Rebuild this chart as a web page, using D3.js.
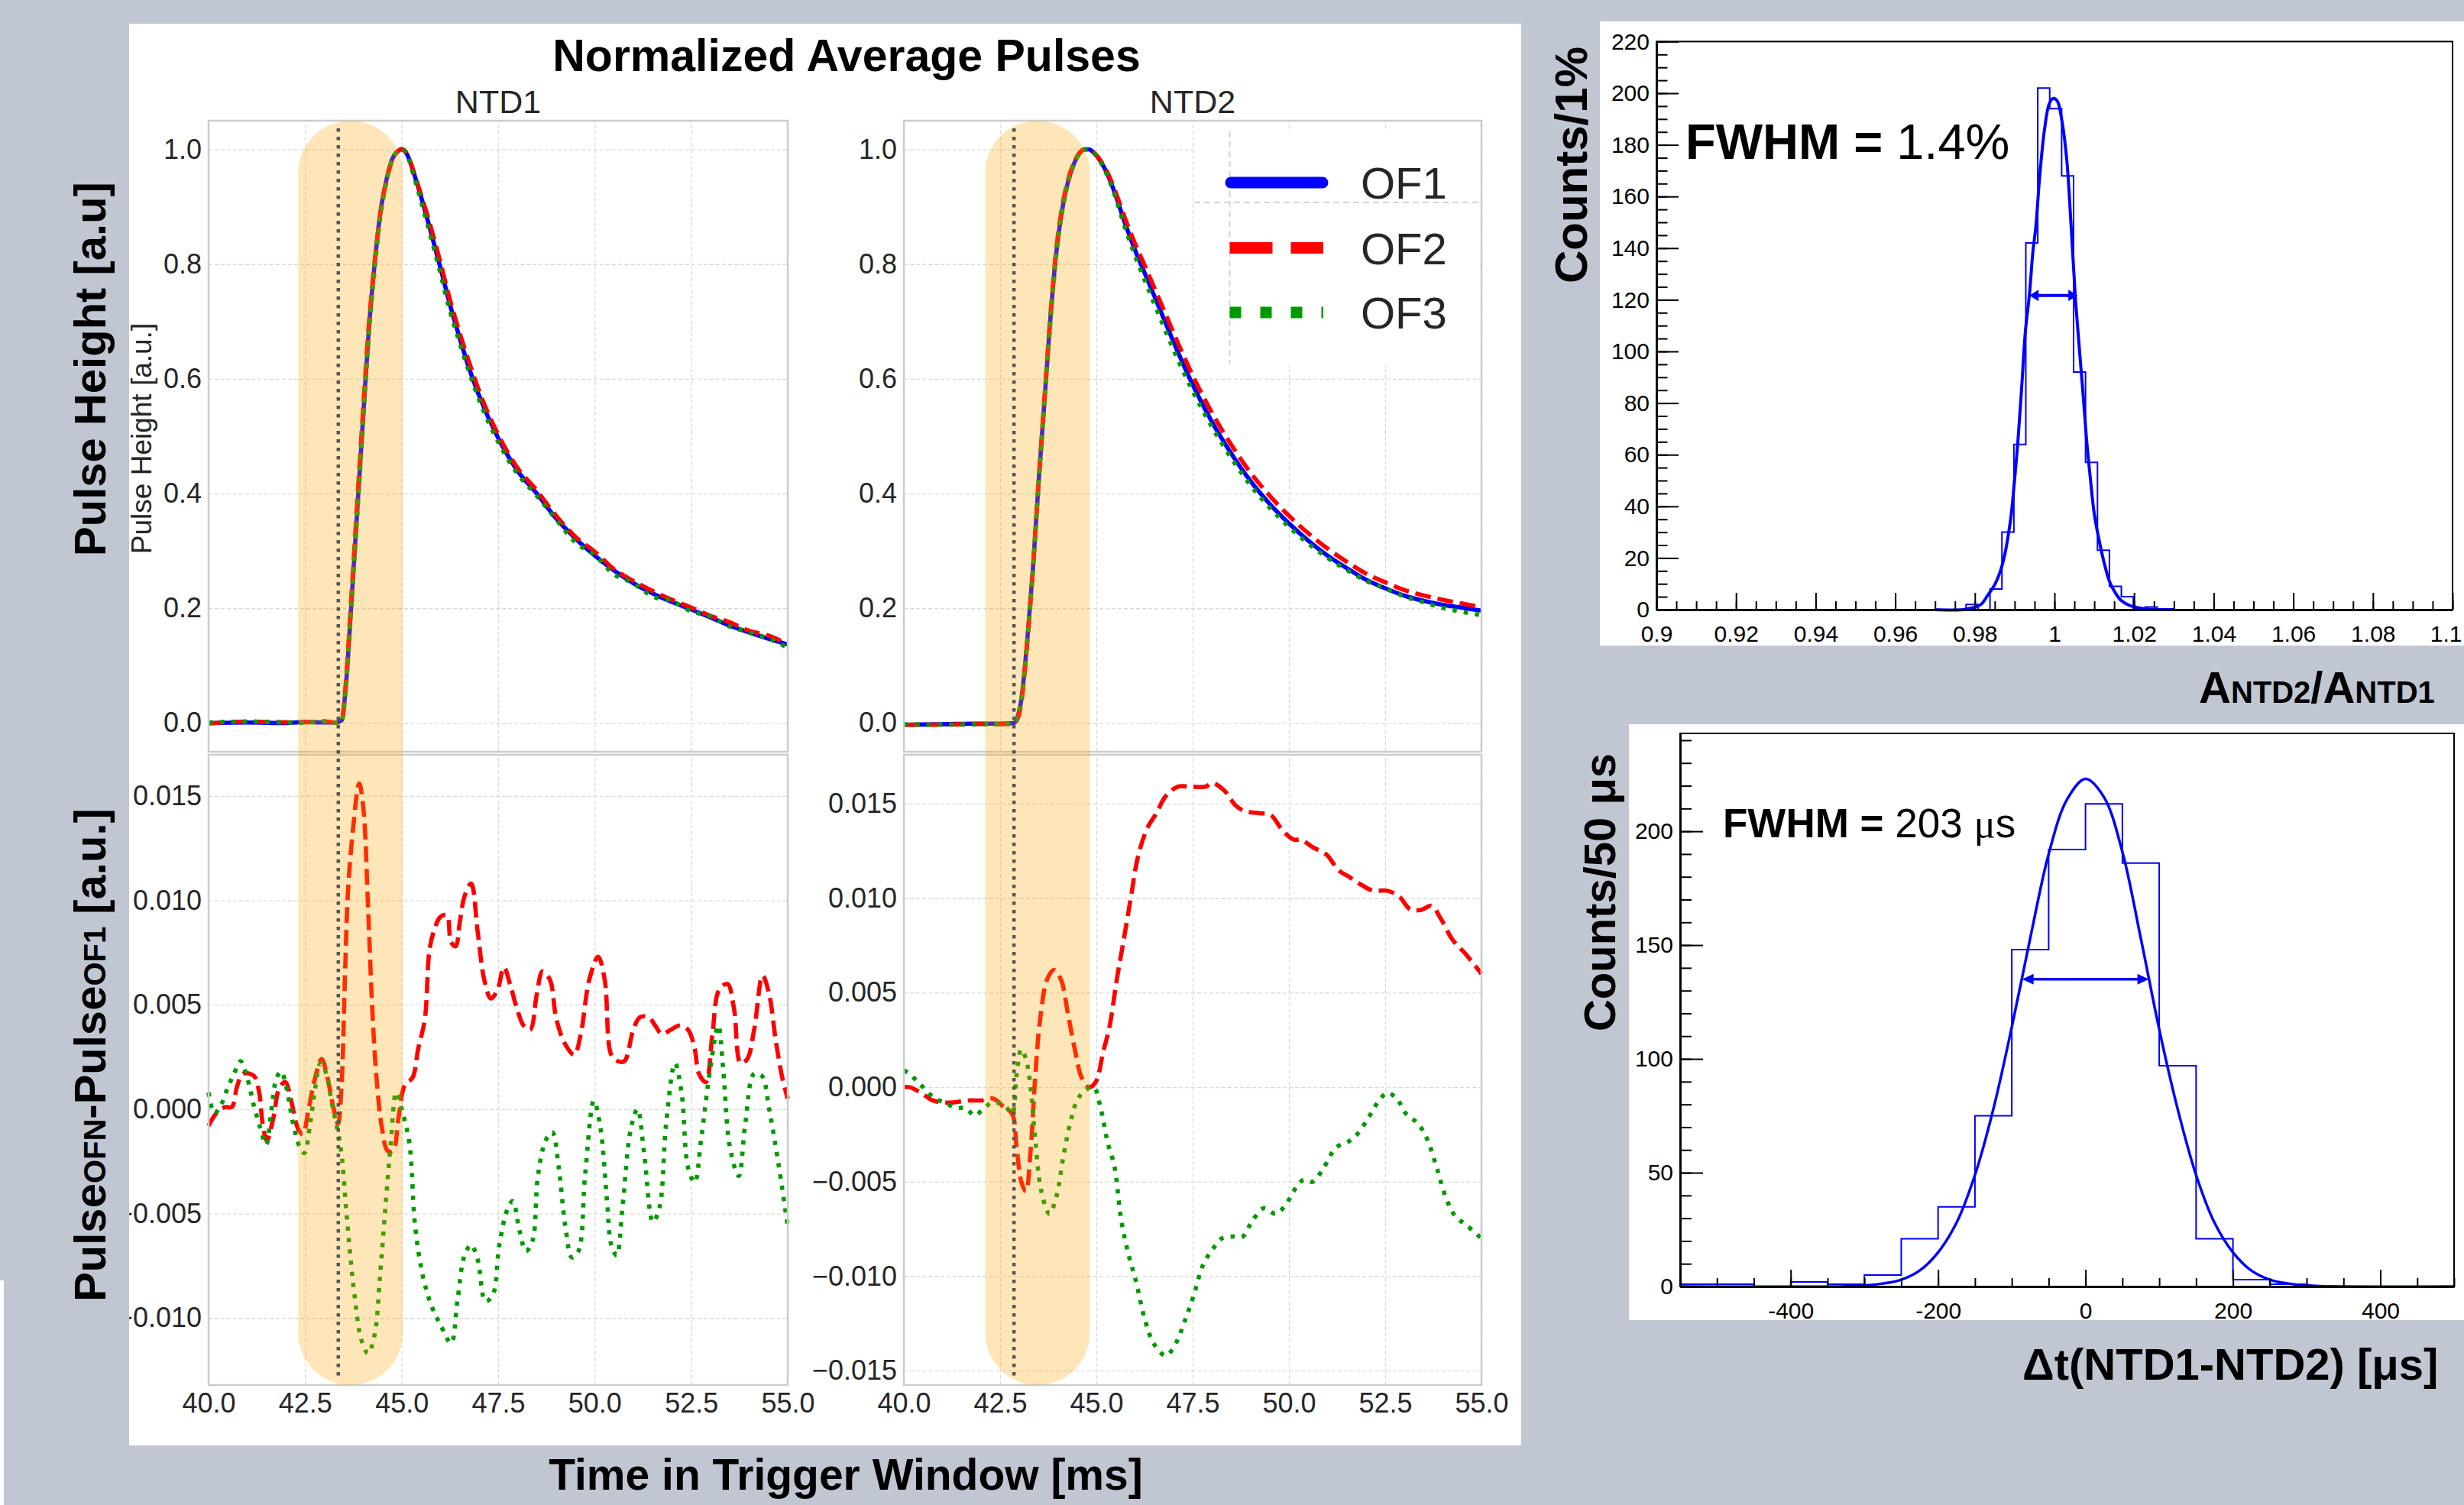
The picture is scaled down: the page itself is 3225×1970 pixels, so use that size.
<!DOCTYPE html>
<html><head><meta charset="utf-8">
<script src="https://cdn.jsdelivr.net/npm/d3@7"></script>
<style>
body{margin:0;background:#c0c6d2;}
svg{display:block;}
text{font-family:"Liberation Sans",Arial,Helvetica,sans-serif;}
</style></head>
<body><svg id="c" width="3225" height="1970"></svg>
<script>
// ---------------- DATA ----------------
const detectors = ["NTD1", "NTD2"];
const seriesNames = ["OF1", "OF2", "OF3"];
const timeTicks = [40.0, 42.5, 45.0, 47.5, 50.0, 52.5, 55.0];
const pulseTicks = [0.0, 0.2, 0.4, 0.6, 0.8, 1.0];
const ntd1DiffTicks = [-0.010, -0.005, 0.000, 0.005, 0.010, 0.015];
const ntd2DiffTicks = [-0.015, -0.010, -0.005, 0.000, 0.005, 0.010, 0.015];

const ntd1Time = [40,41,42,42.5,43,43.3,43.45,43.55,43.7,43.85,44.0,44.15,44.3,44.45,44.6,44.75,44.9,45.0,45.15,45.3,45.5,45.75,46.0,46.25,46.5,46.75,47.0,47.5,48.0,48.5,49.0,49.5,50.0,50.5,51.0,51.5,52.0,52.5,53.0,53.5,54.0,54.5,55.0];
const ntd1OF1 = [0.000,0.001,0.000,0.002,0.001,0.001,0.005,0.060,0.210,0.370,0.530,0.685,0.800,0.890,0.945,0.982,0.997,1.000,0.990,0.962,0.918,0.858,0.795,0.730,0.672,0.618,0.572,0.497,0.440,0.400,0.357,0.322,0.292,0.266,0.244,0.226,0.211,0.198,0.184,0.170,0.158,0.147,0.137];
const ntd1OF2 = [-0.0008,0.0026,0.0012,0.0014,0.003,0.0006,0.006,0.067,0.2228,0.3852,0.5445,0.694,0.803,0.8895,0.9432,0.980,0.9964,1.0008,0.9913,0.9636,0.9215,0.866,0.8042,0.7383,0.6808,0.6286,0.580,0.5028,0.4448,0.4055,0.3614,0.3248,0.2988,0.2683,0.2478,0.2302,0.2148,0.2014,0.187,0.1755,0.1608,0.1526,0.1375];
const ntd1OF3 = [0.0008,0.0025,0.0011,0.0002,0.0029,0.0003,0.0028,0.0555,0.2025,0.3603,0.5187,0.6733,0.7892,0.8822,0.9408,0.981,0.9976,1.0002,0.989,0.9575,0.9105,0.8487,0.7847,0.7189,0.6635,0.6114,0.5645,0.490,0.4347,0.3962,0.355,0.315,0.2923,0.2592,0.2436,0.2206,0.2128,0.1948,0.186,0.1682,0.1585,0.1472,0.1314];

const ntd2Time = [40,41,42,42.5,42.85,42.95,43.05,43.2,43.35,43.5,43.65,43.8,43.95,44.1,44.25,44.4,44.55,44.7,44.8,44.95,45.1,45.3,45.5,45.75,46.0,46.25,46.5,46.75,47.0,47.5,48.0,48.5,49.0,49.5,50.0,50.5,51.0,51.5,52.0,52.5,53.0,53.5,54.0,54.5,55.0];
const ntd2OF1 = [-0.003,-0.002,-0.001,-0.001,0.000,0.010,0.040,0.140,0.267,0.420,0.560,0.700,0.815,0.890,0.940,0.972,0.992,1.000,1.000,0.993,0.980,0.955,0.920,0.870,0.825,0.785,0.745,0.705,0.665,0.590,0.525,0.470,0.422,0.382,0.348,0.318,0.292,0.270,0.250,0.235,0.222,0.213,0.206,0.201,0.196];
const ntd2OF2 = [-0.003,-0.0028,-0.0017,-0.0019,-0.0016,0.0064,0.035,0.135,0.266,0.423,0.5652,0.706,0.8212,0.8956,0.944,0.9744,0.993,1.0002,1.000,0.9932,0.9812,0.9579,0.9253,0.8784,0.8363,0.7983,0.7593,0.7202,0.6808,0.6059,0.5411,0.4852,0.4366,0.3964,0.3614,0.3309,0.3043,0.2812,0.2606,0.2454,0.2318,0.2224,0.2148,0.2082,0.202];
const ntd2OF3 = [-0.0022,-0.0028,-0.0022,-0.0019,-0.0012,0.0108,0.042,0.1413,0.2657,0.4156,0.5538,0.6933,0.8092,0.8858,0.9374,0.9706,0.9915,0.9998,0.9999,0.993,0.979,0.952,0.9154,0.862,0.815,0.7728,0.7314,0.6908,0.6512,0.5787,0.5164,0.4621,0.4147,0.3755,0.342,0.313,0.288,0.267,0.2482,0.2346,0.2207,0.2105,0.2006,0.1938,0.188];

// differences (OFN - OF1): [time, value]
const ntd1DiffOF2 = [[40.0,-0.0008],[40.2,-0.0002],[40.43,0.0001],[40.6,0.0001],[40.74,0.0011],[40.89,0.0017],[41.17,0.0016],[41.31,0.0008],[41.4,-0.0007],[41.51,-0.0015],[41.68,-0.0004],[41.83,0.001],[41.99,0.0013],[42.14,0.0004],[42.31,-0.0009],[42.44,-0.0012],[42.59,0],[42.76,0.0015],[42.93,0.0024],[43.08,0.0015],[43.22,0.0002],[43.35,-0.0007],[43.44,0.001],[43.53,0.0062],[43.61,0.0104],[43.73,0.0132],[43.9,0.0156],[44.01,0.0144],[44.13,0.0097],[44.24,0.0048],[44.35,0.0015],[44.49,-0.0009],[44.64,-0.002],[44.78,-0.002],[44.92,-0.0004],[45.09,0.0012],[45.28,0.0015],[45.43,0.0029],[45.6,0.0043],[45.72,0.0076],[45.83,0.0085],[46.0,0.0092],[46.17,0.0093],[46.28,0.008],[46.4,0.0078],[46.51,0.009],[46.63,0.0102],[46.8,0.0108],[46.97,0.0085],[47.14,0.0062],[47.31,0.0053],[47.48,0.0057],[47.65,0.0068],[47.82,0.0059],[47.99,0.0048],[48.16,0.004],[48.33,0.0038],[48.5,0.0055],[48.65,0.0066],[48.84,0.0062],[49.01,0.0043],[49.24,0.0031],[49.47,0.0026],[49.64,0.0036],[49.86,0.0062],[50.09,0.0073],[50.26,0.0062],[50.43,0.0026],[50.6,0.0023],[50.77,0.0023],[51.0,0.0038],[51.17,0.0044],[51.4,0.0044],[51.57,0.004],[51.74,0.0036],[51.97,0.0038],[52.19,0.004],[52.42,0.0038],[52.59,0.0029],[52.7,0.0017],[52.88,0.0013],[53.05,0.0036],[53.22,0.0057],[53.44,0.006],[53.61,0.0048],[53.78,0.0022],[53.95,0.0024],[54.13,0.0038],[54.35,0.0064],[54.52,0.0055],[54.69,0.0033],[54.86,0.0015],[55.0,0.0005]];
const ntd1DiffOF3 = [[40.0,0.0008],[40.15,-0.0002],[40.32,0.0002],[40.49,0.001],[40.66,0.0017],[40.83,0.0023],[41.0,0.0015],[41.17,0.0002],[41.34,-0.0009],[41.49,-0.0017],[41.63,0],[41.76,0.0015],[41.88,0.0018],[42.02,0.001],[42.19,-0.0007],[42.36,-0.0018],[42.48,-0.0021],[42.63,-0.0007],[42.76,0.001],[42.9,0.0022],[43.05,0.0017],[43.19,0.0003],[43.33,-0.0009],[43.44,-0.0021],[43.56,-0.0047],[43.67,-0.007],[43.78,-0.0089],[43.95,-0.011],[44.13,-0.0117],[44.3,-0.0108],[44.44,-0.008],[44.58,-0.0047],[44.72,-0.0016],[44.86,0.0008],[45.03,-0.0002],[45.2,-0.0016],[45.35,-0.0056],[45.55,-0.008],[45.77,-0.0094],[46.0,-0.0103],[46.28,-0.0112],[46.45,-0.0091],[46.63,-0.007],[46.8,-0.0065],[46.97,-0.0072],[47.17,-0.0092],[47.36,-0.0089],[47.53,-0.0065],[47.74,-0.0048],[47.88,-0.0044],[48.05,-0.0058],[48.22,-0.0068],[48.39,-0.0063],[48.53,-0.0032],[48.73,-0.0015],[48.9,-0.0011],[49.07,-0.0028],[49.24,-0.0056],[49.41,-0.0071],[49.58,-0.0068],[49.75,-0.0032],[49.98,0.0004],[50.15,-0.0009],[50.32,-0.0044],[50.43,-0.0065],[50.57,-0.007],[50.72,-0.0047],[50.94,-0.0009],[51.11,0],[51.28,-0.0021],[51.51,-0.0054],[51.68,-0.0047],[51.85,-0.0007],[52.08,0.0022],[52.25,0.0008],[52.42,-0.0028],[52.59,-0.0035],[52.76,-0.0014],[52.99,0.0019],[53.2,0.004],[53.33,0.0019],[53.5,-0.0018],[53.73,-0.0032],[53.9,-0.0007],[54.13,0.0017],[54.33,0.0016],[54.52,0],[54.75,-0.0025],[55.0,-0.0056]];
const ntd2DiffOF2 = [[40.0,0],[40.15,0],[40.45,-0.0003],[40.75,-0.0007],[41.0,-0.0008],[41.3,-0.0008],[41.66,-0.0007],[42.02,-0.0007],[42.32,-0.0006],[42.57,-0.001],[42.81,-0.0014],[42.93,-0.0032],[43.05,-0.005],[43.17,-0.0055],[43.29,-0.0034],[43.41,0.0005],[43.54,0.0036],[43.72,0.0057],[43.9,0.0062],[44.08,0.0057],[44.26,0.0039],[44.44,0.002],[44.62,0.0005],[44.81,0],[44.99,0.0003],[45.17,0.0018],[45.35,0.0033],[45.53,0.0057],[45.71,0.0078],[45.9,0.0101],[46.08,0.0122],[46.32,0.0137],[46.56,0.0145],[46.8,0.0154],[47.11,0.0159],[47.47,0.0159],[47.83,0.0159],[48.01,0.0161],[48.32,0.0157],[48.62,0.0149],[48.86,0.0146],[49.23,0.0145],[49.53,0.0144],[49.83,0.0136],[50.13,0.0131],[50.31,0.0131],[50.62,0.0127],[50.98,0.0123],[51.28,0.0115],[51.59,0.0111],[51.89,0.0107],[52.19,0.0104],[52.55,0.0104],[52.86,0.0101],[53.16,0.0094],[53.46,0.0094],[53.7,0.0096],[53.95,0.0089],[54.25,0.0078],[54.61,0.007],[55.0,0.006]];
const ntd2DiffOF3 = [[40.0,0.0009],[40.15,0.0007],[40.45,0.0001],[40.81,-0.0006],[41.05,-0.0008],[41.36,-0.0011],[41.6,-0.0011],[41.84,-0.0015],[42.08,-0.0011],[42.32,-0.0008],[42.63,-0.001],[42.81,-0.0014],[42.93,0.0007],[43.05,0.002],[43.17,0.0015],[43.29,0],[43.41,-0.0027],[43.57,-0.0055],[43.78,-0.0067],[43.96,-0.0058],[44.14,-0.0037],[44.32,-0.0019],[44.5,-0.0007],[44.69,-0.0002],[44.93,0],[45.11,-0.0011],[45.29,-0.0029],[45.47,-0.0042],[45.65,-0.0071],[45.84,-0.0089],[46.02,-0.0102],[46.26,-0.0123],[46.5,-0.0136],[46.8,-0.0142],[47.05,-0.0136],[47.29,-0.0124],[47.53,-0.011],[47.77,-0.0094],[48.01,-0.0086],[48.26,-0.008],[48.56,-0.0079],[48.8,-0.0079],[49.04,-0.0071],[49.35,-0.0064],[49.65,-0.0067],[49.89,-0.0063],[50.19,-0.0053],[50.38,-0.0049],[50.62,-0.005],[50.92,-0.0042],[51.22,-0.0032],[51.53,-0.0029],[51.77,-0.0025],[52.07,-0.0016],[52.31,-0.0008],[52.55,-0.0003],[52.8,-0.0006],[53.04,-0.0014],[53.34,-0.0019],[53.58,-0.0027],[53.83,-0.0042],[54.07,-0.0058],[54.31,-0.0068],[54.61,-0.0073],[55.0,-0.008]];

// highlighted windows and trigger times [ms]
const bandNTD1 = [42.32, 45.03];
const bandNTD2 = [42.11, 44.83];
const triggerTimes = [43.36, 42.86];

// amplitude-ratio histogram
const ratioBinStart = 0.9778, ratioBinWidth = 0.003;
const ratioCounts = [2,0,8,30,64,142,202,194,168,92,57,23,9,5,0,1];
const ratioFit = [[0.9700,0],[0.9770,0],[0.9790,0.6],[0.9815,2],[0.9832,5.5],[0.9851,10],[0.9870,18],[0.9889,34],[0.9899,49],[0.9908,65],[0.9918,87],[0.9927,108],[0.9937,122],[0.9946,139],[0.9953,148],[0.9963,168],[0.9975,186],[0.9987,196],[0.9997,198],[1.0007,197],[1.0019,189],[1.0031,174],[1.0042,148],[1.0052,122],[1.0061,104],[1.0071,85],[1.0080,67],[1.0090,51],[1.0100,37],[1.0112,27],[1.0125,18],[1.0138,11],[1.0151,7],[1.0167,3.6],[1.0189,1.6],[1.0227,0.3],[1.0260,0],[1.0300,0]];
const ratioFwhmArrow = [0.9937, 1.0058, 121.7];
const ratioYTicks = [0,20,40,60,80,100,120,140,160,180,200,220];
const ratioXTicks = [0.9,0.92,0.94,0.96,0.98,1.0,1.02,1.04,1.06,1.08,1.1];

// time-difference histogram
const dtBinStart = -550, dtBinWidth = 50;
const dtCounts = [1,1,0,2,1,5,21,35,75,148,192,212,186,97,21,3,1];
const dtFit = [[-550,0],[-325,0.1],[-300,0.5],[-275,1.3],[-250,3],[-225,7],[-200,15],[-175,28],[-150,49],[-125,78],[-100,114],[-75,153],[-50,190],[-25,214],[0,223],[25,215],[50,191],[75,153],[100,113],[125,78],[150,49],[175,28],[200,15],[225,7],[250,3],[275,1.3],[300,0.5],[325,0.1],[500,0]];
const dtFwhmArrow = [-86, 86, 135];
const dtYTicks = [0,50,100,150,200];
const dtXTicks = [-400,-200,0,200,400];

// ---------------- DRAWING ----------------
const svg = d3.select("#c");
const FONT = '"Liberation Sans",Arial,Helvetica,sans-serif';
svg.append("rect").attr("width",3225).attr("height",1970).attr("fill","#c0c6d2");
svg.append("rect").attr("x",0).attr("y",1676).attr("width",5).attr("height",294).attr("fill","#fff");

svg.append("defs").append("clipPath").attr("id","leftclip").append("rect")
  .attr("x",169).attr("y",31).attr("width",1822).attr("height",1861);
svg.append("rect").attr("x",169).attr("y",31).attr("width",1822).attr("height",1861).attr("fill","#fff");
svg.append("rect").attr("x",2094).attr("y",28).attr("width",1131).attr("height",817).attr("fill","#fff");
svg.append("rect").attr("x",2132).attr("y",948).attr("width",1093).attr("height",780).attr("fill","#fff");

const left = svg.append("g").attr("clip-path","url(#leftclip)");

const upperY = [984,158], lowerY = [1813,988];
const xRanges = [[273,1031],[1183,1939]];
const colors = {OF1:"#0000ff", OF2:"#ff0000", OF3:"#009a00"};
const lw = 5.6;
const dashes = {OF1:null, OF2:`${3.7*lw},${1.6*lw}`, OF3:`${lw},${1.65*lw}`};

function styleGrid(g){
  g.select(".domain").remove();
  g.selectAll("line").attr("stroke","#dadada").attr("stroke-width",1.3).attr("stroke-dasharray","5,3");
}
function seabornAxes(g, x, y, yticks, yfmt, showX){
  const [x0,x1]=x.range(), [yb,yt]=y.range();
  g.append("rect").attr("x",x0).attr("y",yt).attr("width",x1-x0).attr("height",yb-yt).attr("fill","#fff");
  const gy=g.append("g").attr("transform",`translate(${x0},0)`)
    .call(d3.axisLeft(y).tickValues(yticks).tickSize(-(x1-x0)).tickFormat(""));
  styleGrid(gy);
  const gx=g.append("g").attr("transform",`translate(0,${yb})`)
    .call(d3.axisBottom(x).tickValues(timeTicks).tickSize(-(yb-yt)).tickFormat(""));
  styleGrid(gx);
  const ly=g.append("g").attr("transform",`translate(${x0},0)`)
    .call(d3.axisLeft(y).tickValues(yticks).tickSize(0).tickPadding(9).tickFormat(yfmt));
  ly.select(".domain").remove();
  ly.selectAll("text").attr("font-size",36).attr("fill","#262626").attr("font-family",FONT);
  if(showX){
    const lx=g.append("g").attr("transform",`translate(0,${yb})`)
      .call(d3.axisBottom(x).tickValues(timeTicks).tickSize(0).tickPadding(10.5).tickFormat(d3.format(".1f")));
    lx.select(".domain").remove();
    lx.selectAll("text").attr("font-size",36).attr("fill","#262626").attr("font-family",FONT);
  }
}
function frame(g,x,y){
  const [x0,x1]=x.range(), [yb,yt]=y.range();
  g.append("rect").attr("x",x0).attr("y",yt).attr("width",x1-x0).attr("height",yb-yt)
   .attr("fill","none").attr("stroke","#cccccc").attr("stroke-width",2.5);
}
function drawLine(g, pts, x, y, name, curve){
  g.append("path").datum(pts)
    .attr("d", d3.line().x(d=>x(d[0])).y(d=>y(d[1])).curve(curve))
    .attr("fill","none").attr("stroke",colors[name]).attr("stroke-width",lw)
    .attr("stroke-dasharray",dashes[name]);
}

const upperSets = [
  {t:ntd1Time, s:{OF1:ntd1OF1, OF2:ntd1OF2, OF3:ntd1OF3}},
  {t:ntd2Time, s:{OF1:ntd2OF1, OF2:ntd2OF2, OF3:ntd2OF3}}
];
const diffSets = [
  {OF2:ntd1DiffOF2, OF3:ntd1DiffOF3, dom:[-0.01321,0.01697], ticks:ntd1DiffTicks},
  {OF2:ntd2DiffOF2, OF3:ntd2DiffOF3, dom:[-0.01576,0.01759], ticks:ntd2DiffTicks}
];
const bands = [bandNTD1, bandNTD2];

detectors.forEach((det,i)=>{
  const x = d3.scaleLinear([40,55], xRanges[i]);
  const yU = d3.scaleLinear([-0.05,1.05], upperY);
  const yL = d3.scaleLinear(diffSets[i].dom, lowerY);
  const g = left.append("g");
  seabornAxes(g, x, yU, pulseTicks, d3.format(".1f"), false);
  seabornAxes(g, x, yL, diffSets[i].ticks, d3.format(".3f"), true);
  const U = upperSets[i];
  seriesNames.forEach(n=>{
    drawLine(g, U.t.map((t,k)=>[t,U.s[n][k]]), x, yU, n, d3.curveMonotoneX);
  });
  ["OF2","OF3"].forEach(n=>{
    drawLine(g, diffSets[i][n], x, yL, n, d3.curveCatmullRom.alpha(0.5));
  });
  frame(g,x,yU); frame(g,x,yL);
  const bx0 = x(bands[i][0]), bx1 = x(bands[i][1]), bw = bx1-bx0;
  g.append("rect").attr("x",bx0).attr("y",158).attr("width",bw).attr("height",1813-158)
    .attr("rx",bw/2).attr("ry",bw/2).attr("fill","#ffa500").attr("fill-opacity",0.28);
  g.append("line").attr("x1",x(triggerTimes[i])).attr("x2",x(triggerTimes[i]))
    .attr("y1",168).attr("y2",1806).attr("stroke","#555").attr("stroke-width",4.5)
    .attr("stroke-dasharray","4.5,6.5");
  g.append("text").attr("x",(xRanges[i][0]+xRanges[i][1])/2).attr("y",148)
    .attr("text-anchor","middle").attr("font-size",43).attr("fill","#262626").text(det);
});

// legend (in NTD2 upper axes)
const lg = left.append("g");
lg.append("rect").attr("x",1563).attr("y",172).attr("width",374).attr("height",306).attr("fill","#fff");
lg.append("line").attr("x1",1609.5).attr("x2",1609.5).attr("y1",172).attr("y2",476)
  .attr("stroke","#d4d4d4").attr("stroke-width",2).attr("stroke-dasharray","8,5");
lg.append("line").attr("x1",1563).attr("x2",1937).attr("y1",265).attr("y2",265)
  .attr("stroke","#d4d4d4").attr("stroke-width",2).attr("stroke-dasharray","8,5");
const legY = [239, 324.5, 409];
seriesNames.forEach((n,k)=>{
  const ln = lg.append("line").attr("y1",legY[k]).attr("y2",legY[k])
    .attr("stroke",colors[n]).attr("stroke-width",15);
  if(n==="OF1") ln.attr("x1",1611).attr("x2",1731).attr("stroke-linecap","round");
  else ln.attr("x1",1609.5).attr("x2",1732).attr("stroke-dasharray", n==="OF2"?"56,24":"15,25");
  lg.append("text").attr("x",1781).attr("y",legY[k]+21).attr("font-size",58)
    .attr("fill","#262626").text(n);
});

left.append("text").attr("transform","translate(198,574) rotate(-90)").attr("text-anchor","middle")
  .attr("font-size",37).attr("fill","#262626").text("Pulse Height [a.u.]");
left.append("text").attr("x",1108).attr("y",93).attr("text-anchor","middle")
  .attr("font-size",59).attr("font-weight","bold").attr("fill","#000").text("Normalized Average Pulses");

function boldLabel(parts, attrs){
  const t = svg.append("text").attr("font-weight","bold").attr("fill","#000").attr("font-family",FONT);
  Object.entries(attrs).forEach(([k,v])=>t.attr(k,v));
  parts.forEach(p=>{
    const s=t.append("tspan").attr("font-size",p[1]).text(p[0]);
    if(p[2]) s.attr("font-family",p[2]);
  });
  return t;
}
boldLabel([["Pulse Height [a.u]",58]],{transform:"translate(138,483) rotate(-90)","text-anchor":"middle"});
boldLabel([["Pulse",58],["OFN",40],["-Pulse",58],["OF1",40],[" [a.u.]",58]],
  {transform:"translate(138,1381) rotate(-90)","text-anchor":"middle"});
boldLabel([["Time in Trigger Window [ms]",57]],{x:1107,y:1950,"text-anchor":"middle"});
boldLabel([["Counts/1%",60]],{transform:"translate(2077,216) rotate(-90)","text-anchor":"middle"});
boldLabel([["A",58],["NTD2",40],["/A",58],["NTD1",40]],{x:2878,y:920});
boldLabel([["Counts/50 μs",58]],{transform:"translate(2114,1168) rotate(-90)","text-anchor":"middle"});
boldLabel([["Δt(NTD1-NTD2) [μs]",58]],{x:2647,y:1806});

// ---------------- ROOT-style histograms ----------------
function histPath(x,y,start,w,counts){
  const p=d3.path(); p.moveTo(x(start),y(0));
  counts.forEach((c,i)=>{p.lineTo(x(start+i*w),y(c)); p.lineTo(x(start+(i+1)*w),y(c));});
  p.lineTo(x(start+counts.length*w),y(0));
  return p.toString();
}
function rootAxes(g,x,y,yMajor,yMinor,xMajor,xMinor,ymaj,xmaj,fmt){
  const [x0,x1]=x.range(), [yb,yt]=y.range();
  g.append("rect").attr("x",x0).attr("y",yt).attr("width",x1-x0).attr("height",yb-yt)
    .attr("fill","none").attr("stroke","#000").attr("stroke-width",2);
  const style=(a)=>{a.selectAll("line").attr("stroke","#000").attr("stroke-width",2);
    a.select(".domain").attr("stroke","#000").attr("stroke-width",2.5);
    a.selectAll("text").attr("font-size",30).attr("fill","#000").attr("font-family",FONT);};
  style(g.append("g").attr("transform",`translate(${x0},0)`)
    .call(d3.axisLeft(y).tickValues(yMinor).tickSize(-ymaj/2).tickSizeOuter(0).tickFormat("")));
  style(g.append("g").attr("transform",`translate(${x0},0)`)
    .call(d3.axisLeft(y).tickValues(yMajor).tickSize(-ymaj).tickSizeOuter(0).tickPadding(9).tickFormat(fmt)));
  style(g.append("g").attr("transform",`translate(0,${yb})`)
    .call(d3.axisBottom(x).tickValues(xMinor).tickSize(-xmaj/2).tickSizeOuter(0).tickFormat("")));
  const bx=g.append("g").attr("transform",`translate(0,${yb})`)
    .call(d3.axisBottom(x).tickValues(xMajor).tickSize(-xmaj).tickSizeOuter(0).tickPadding(21).tickFormat(fmt));
  style(bx);
  // keep the right-most label inside the page
  bx.selectAll("text").filter(d=>x(d)+25>3225).attr("text-anchor","end").attr("dx",3222-x(xMajor[xMajor.length-1]));
}
function arrow(g,x,y,a,hl,hw,sw){
  const xa=x(a[0]), xb=x(a[1]), yy=y(a[2]);
  g.append("line").attr("x1",xa+hl/2).attr("x2",xb-hl/2).attr("y1",yy).attr("y2",yy)
    .attr("stroke","#0000ff").attr("stroke-width",sw);
  g.append("path").attr("d",`M${xa},${yy}L${xa+hl},${yy-hw/2}L${xa+hl},${yy+hw/2}Z`).attr("fill","#0000ff");
  g.append("path").attr("d",`M${xb},${yy}L${xb-hl},${yy-hw/2}L${xb-hl},${yy+hw/2}Z`).attr("fill","#0000ff");
}
const rootFmt = d=>String(+d.toFixed(3));

{
  const x=d3.scaleLinear([0.9,1.1],[2168,3210]);
  const y=d3.scaleLinear([0,220],[798,54.4]);
  const g=svg.append("g");
  g.append("path").attr("d",histPath(x,y,ratioBinStart,ratioBinWidth,ratioCounts))
    .attr("fill","none").attr("stroke","#0000ff").attr("stroke-width",2);
  g.append("path").datum(ratioFit).attr("d",d3.line().x(d=>x(d[0])).y(d=>y(d[1])).curve(d3.curveCatmullRom.alpha(0.5)))
    .attr("fill","none").attr("stroke","#0000ff").attr("stroke-width",4);
  rootAxes(g,x,y,ratioYTicks,d3.range(0,221,5),ratioXTicks,d3.range(0.9,1.1001,0.005),29,22,rootFmt);
  arrow(g,x,y,ratioFwhmArrow,12,15,4);
  const t=g.append("text").attr("x",2206).attr("y",208).attr("font-size",65).attr("fill","#000");
  t.append("tspan").attr("font-weight","bold").text("FWHM = ");
  t.append("tspan").text("1.4%");
}
{
  const x=d3.scaleLinear([-550,500],[2199,3212]);
  const y=d3.scaleLinear([0,243],[1684,960]);
  const g=svg.append("g");
  g.append("path").attr("d",histPath(x,y,dtBinStart,dtBinWidth,dtCounts))
    .attr("fill","none").attr("stroke","#0000ff").attr("stroke-width",2);
  g.append("path").datum(dtFit).attr("d",d3.line().x(d=>x(d[0])).y(d=>y(d[1])).curve(d3.curveCatmullRom.alpha(0.5)))
    .attr("fill","none").attr("stroke","#0000ff").attr("stroke-width",3.5);
  rootAxes(g,x,y,dtYTicks,d3.range(0,243,10),dtXTicks,d3.range(-550,501,50),30,22,rootFmt);
  arrow(g,x,y,dtFwhmArrow,15,14,3.5);
  const t=g.append("text").attr("x",2255).attr("y",1096).attr("font-size",53).attr("fill","#000");
  t.append("tspan").attr("font-weight","bold").text("FWHM = ");
  t.append("tspan").text("203 ");
  t.append("tspan").attr("font-family",'"Liberation Serif","Times New Roman",serif').text("μ");
  t.append("tspan").text("s");
}
</script></body></html>
